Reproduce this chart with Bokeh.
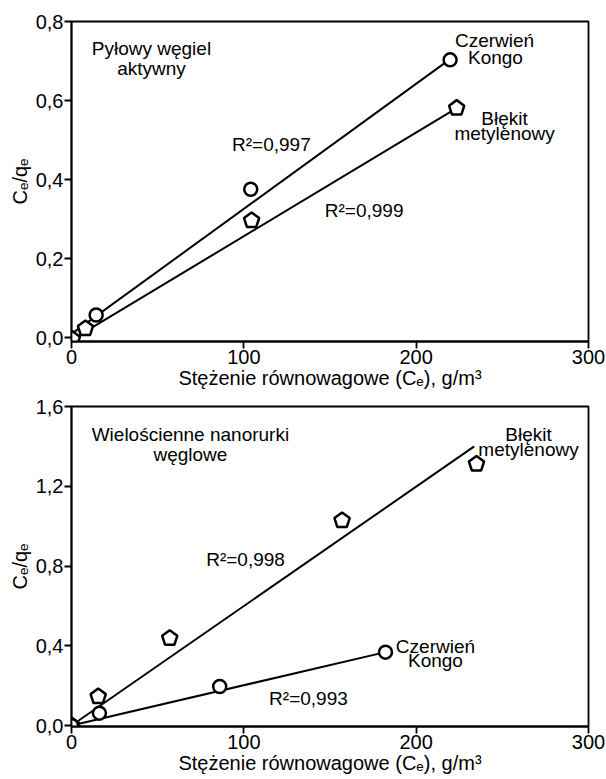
from bokeh.plotting import figure
from bokeh.layouts import column
from bokeh.models import FixedTicker, CustomJSTickFormatter, ColumnDataSource, Range1d
from bokeh.core.properties import value
from bokeh.embed import file_html
from bokeh.resources import INLINE

FONT = "Liberation Sans"

# ---------------- data ----------------
x_ticks = [0, 100, 200, 300]
top_y_ticks = [0.0, 0.2, 0.4, 0.6, 0.8]
bot_y_ticks = [0.0, 0.4, 0.8, 1.2, 1.6]

x_title = "Stężenie równowagowe (Cₑ), g/m³"
y_title = "Cₑ/qₑ"

# top panel: Pyłowy węgiel aktywny
top_ck_x = [14.3, 104.0, 219.7]
top_ck_y = [0.058, 0.376, 0.703]
top_ck_fit_x = [0.0, 219.7]
top_ck_fit_y = [0.01, 0.705]
top_bm_x = [0.5, 8.1, 104.5, 223.5]
top_bm_y = [-0.003, 0.024, 0.297, 0.581]
top_bm_fit_x = [0.0, 223.5]
top_bm_fit_y = [-0.005, 0.581]

top_labels = ["Pyłowy węgiel", "aktywny", "Czerwień", "Kongo",
              "Błękit", "metylenowy", "R²=0,997", "R²=0,999"]
top_label_x = [46.4, 46.4, 245.5, 246.0, 251.3, 251.3, 116.0, 169.8]
top_label_y = [0.732, 0.682, 0.753, 0.710, 0.555, 0.517, 0.488, 0.322]

# bottom panel: Wielościenne nanorurki węglowe
bot_bm_x = [0.0, 15.5, 57.0, 157.0, 235.0]
bot_bm_y = [0.0, 0.145, 0.438, 1.028, 1.312]
bot_bm_fit_x = [0.0, 233.7]
bot_bm_fit_y = [0.0, 1.40]
bot_ck_x = [0.0, 16.2, 86.0, 182.2]
bot_ck_y = [0.0, 0.062, 0.196, 0.368]
bot_ck_fit_x = [0.0, 182.2]
bot_ck_fit_y = [0.0, 0.368]

bot_labels = ["Wielościenne nanorurki", "węglowe", "Błękit", "metylenowy",
              "Czerwień", "Kongo", "R²=0,998", "R²=0,993"]
bot_label_x = [69.0, 69.0, 265.2, 265.2, 211.2, 211.2, 101.0, 137.5]
bot_label_y = [1.458, 1.358, 1.461, 1.383, 0.396, 0.324, 0.831, 0.137]


def make_panel(y_range, y_ticks, ck, ck_fit, bm, bm_fit, labels, top_border, bottom_border):
    p = figure(frame_width=517, frame_height=320,
               x_range=Range1d(0, 300), y_range=Range1d(*y_range),
               output_backend="svg", toolbar_location=None,
               min_border_left=71, min_border_right=18,
               min_border_top=top_border, min_border_bottom=bottom_border,
               background_fill_color="white", border_fill_color="white")
    p.grid.visible = False
    p.outline_line_color = "black"
    p.outline_line_width = 1.8

    for ax in (p.xaxis[0], p.yaxis[0]):
        ax.axis_line_width = 1.8
        ax.axis_line_color = "black"
        ax.major_tick_line_width = 1.8
        ax.major_tick_in = 0
        ax.major_tick_out = 7
        ax.minor_tick_out = 0
        ax.minor_tick_in = 0
        ax.major_label_text_font = FONT
        ax.major_label_text_font_size = "20px"
        ax.major_label_text_color = "black"
        ax.axis_label_text_font = FONT
        ax.axis_label_text_font_size = "20px"
        ax.axis_label_text_font_style = "normal"
        ax.axis_label_text_color = "black"

    p.xaxis.ticker = FixedTicker(ticks=x_ticks)
    p.yaxis.ticker = FixedTicker(ticks=y_ticks)
    p.yaxis.formatter = CustomJSTickFormatter(code="return tick.toFixed(1).replace('.', ',');")
    p.xaxis.major_label_standoff = 1
    p.yaxis.major_label_standoff = 1
    p.xaxis.axis_label = x_title
    p.yaxis.axis_label = y_title
    p.xaxis.axis_label_standoff = 0
    p.yaxis.axis_label_standoff = 2

    p.line(ck_fit[0], ck_fit[1], line_color="black", line_width=2)
    p.line(bm_fit[0], bm_fit[1], line_color="black", line_width=2)

    p.ngon(x=bm[0], y=bm[1], radius=8, radius_units="screen", n=5,
           angle=0, fill_color="white", line_color="black", line_width=2.5)
    p.scatter(x=ck[0], y=ck[1], marker="circle", size=13,
              fill_color="white", line_color="black", line_width=2.5)

    src = ColumnDataSource(dict(x=labels[1], y=labels[2], t=labels[0]))
    p.text(x="x", y="y", text="t", source=src, text_align="center",
           text_baseline="middle", text_font=value(FONT),
           text_font_size="19px", text_color="black")
    return p


p1 = make_panel((-0.009, 0.8), top_y_ticks,
                (top_ck_x, top_ck_y), (top_ck_fit_x, top_ck_fit_y),
                (top_bm_x, top_bm_y), (top_bm_fit_x, top_bm_fit_y),
                (top_labels, top_label_x, top_label_y), 21, 49)
p2 = make_panel((-0.005, 1.6), bot_y_ticks,
                (bot_ck_x, bot_ck_y), (bot_ck_fit_x, bot_ck_fit_y),
                (bot_bm_x, bot_bm_y), (bot_bm_fit_x, bot_bm_fit_y),
                (bot_labels, bot_label_x, bot_label_y), 15, 54)

layout = column(p1, p2, spacing=0)
open("out.html", "w").write(file_html(layout, INLINE))
